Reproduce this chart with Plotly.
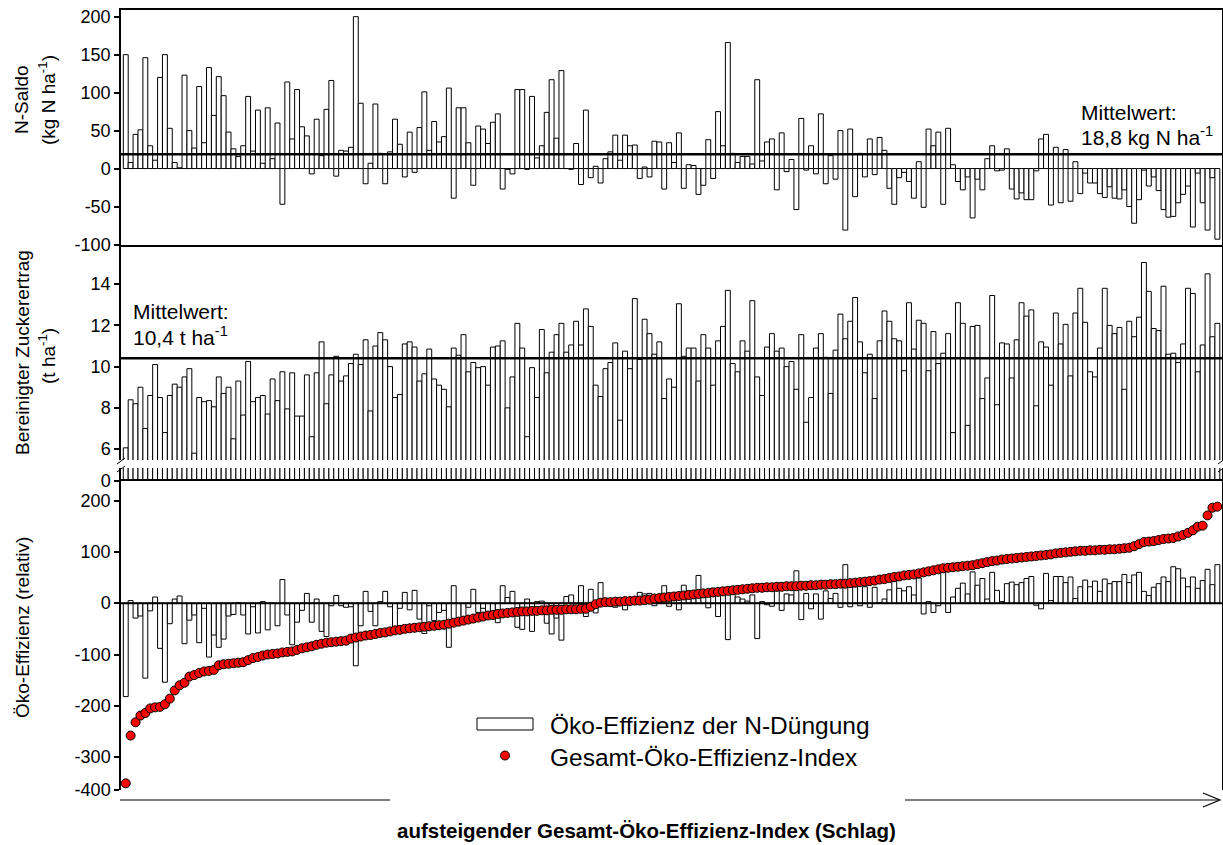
import plotly.graph_objects as go

W, H = 1223, 845

# ---------------- data ----------------
n_saldo = [
    150, 8, 45, 51, 146, 30, 11, 120, 150, 53,
    8, 1, 123, 50, 27, 108, 34, 133, 70, 121,
    96, 48, 26, 16, 30, 95, 23, 77, 7, 80,
    13, 60, -47, 114, 39, 104, 55, 43, -7, 65,
    17, 78, 116, -10, 24, 23, 28, 200, 86, -20,
    7, 85, 20, -20, 22, 65,
    32, -11, 48, -5, 54, 101, 24, 62, 35, 42,
    106, -39, 80, 80, 34, -22, 56, 52, 33, 61,
    72, -27, -1, -7, 104, 104, -1, 95, 14, 30,
    74, 117, 40, 129, 0, -1, 33, -21, 77, -12,
    3, -19, 13, 22, 44, 11, 44, 30, 31, -13,
    2, -11, 36, 35, -27, 34,
    8, 47, -26, 5, 4, -34, -22, 38, -13, 75,
    30, 166, 20, 8, 16, 16, 6, 117, 10, 35,
    39, -28, 47, -4, 12, -54, 66, -2, 30, -7,
    72, -20, 17, -14, 50, -81, 52, -37, 20, -11,
    39, -8, 41, 24, -26, -47, -12, -5, -17, -39,
    9, -51, 52, 30, 48, -47,
    53, 5, -17, -28, -11, -65, -14, -28, 13, 30,
    -3, -2, 26, -27, -40, -32, -41, -41, -3, 39,
    45, -48, 28, -45, 25, -43, 9, -33, -6, -19,
    -19, -33, -38, -24, -39, -40, -28, -50, -72, -41,
    -2, -23, -11, -29, -54, -64, -63, -45, -34, -23,
    -77, -6, -45, -81, -12, -93,
]

zuckerertrag = [
    6.06, 8.39, 8.2, 9.0, 7.0, 8.6, 10.1, 8.5, 6.8, 8.6,
    9.15, 9.0, 9.5, 9.9, 5.8, 8.5, 8.3, 8.35, 8.05, 9.5,
    8.7, 9.0, 6.5, 9.3, 7.65, 10.25, 8.3, 8.5, 8.6, 7.7,
    9.4, 8.35, 9.75, 7.95, 9.7, 7.6, 7.6, 9.6, 6.6, 9.7,
    11.2, 8.2, 9.6, 10.5, 9.3, 9.55, 10.15, 10.6, 10.1, 11.3,
    7.85, 11.0, 11.65, 11.3, 10.0, 8.5,
    8.65, 11.1, 11.2, 10.95, 9.3, 9.65, 10.85, 9.4, 9.1, 8.9,
    8.05, 10.9, 10.55, 11.55, 9.75, 10.2, 9.95, 10.0, 9.1, 10.95,
    11.0, 11.25, 8.0, 9.5, 12.1, 10.9, 6.6, 9.95, 8.5, 11.8,
    9.7, 10.7, 11.55, 12.1, 10.7, 11.05, 12.2, 11.05, 12.8, 11.95,
    9.1, 8.55, 9.9, 10.2, 11.15, 7.4, 10.75, 9.9, 13.3, 10.35,
    12.3, 11.6, 10.6, 11.2, 8.45, 9.4,
    9.0, 13.05, 10.5, 10.9, 10.9, 9.3, 11.55, 10.9, 9.1, 11.25,
    11.95, 13.7, 10.15, 9.75, 11.25, 10.75, 13.2, 9.5, 8.6, 10.95,
    11.6, 10.75, 10.9, 10.0, 10.25, 8.9, 11.55, 7.3, 8.5, 10.9,
    11.6, 10.45, 8.7, 10.8, 12.55, 11.35, 12.2, 13.35, 11.2, 9.7,
    10.6, 8.45, 11.25, 12.7, 12.2, 11.35, 11.25, 9.8, 13.1, 10.85,
    12.25, 12.1, 9.8, 11.7, 10.15, 10.65,
    11.6, 6.8, 13.1, 12.1, 7.15, 11.95, 12.0, 8.45, 9.45, 13.45,
    8.15, 11.15, 11.1, 9.45, 11.3, 13.1, 12.45, 12.75, 8.1, 11.2,
    10.95, 9.1, 12.6, 11.1, 12.05, 9.55, 12.6, 13.8, 12.15, 9.75,
    9.5, 10.9, 13.8, 12.0, 11.6, 11.9, 8.9, 12.2, 11.45, 12.4,
    15.05, 13.65, 11.85, 11.75, 13.9, 10.6, 10.65, 10.2, 11.1, 13.8,
    13.55, 9.75, 11.05, 14.5, 11.45, 12.1,
]

oeko_n_duengung = [
    -182, 5, -29, -25, -146, -15, 12, -88, -154, -40,
    8, 14, -79, -33, -23, -77, -10, -105, -62, -86,
    -70, -25, -22, 1, -23, -60, -7, -58, 3, -52,
    0, -44, 46, -23, -81, -37, -14, 19, -37, 8,
    -55, -65, -5, 15, -5, -8, -7, -122, -44, 23,
    -16, -44, 3, 23, -7, -47,
    -10, 21, -13, 25, -31, -59, -5, -34, -18, -14,
    -86, 34, -31, -26, -8, 27, -18, -10, -21, -29,
    -38, 34, 11, 23, -47, -51, 8, -55, 3, 4,
    -39, -60, -29, -72, 13, 16, -6, 34, -26, 27,
    -19, 40, 2, -6, -8, 5, -13, 6, 10, 21,
    18, 19, -5, 17, 34, -6,
    8, -13, 35, 13, 19, 54, 13, -9, 29, -26,
    23, -71, 27, 12, 8, 4, 16, -69, 3, -3,
    -6, 24, -14, 18, 16, 63, -32, 19, -11, 18,
    -31, 24, 9, 19, -8, 75, -7, 32, -5, 32,
    -8, 31, 1, 8, 26, 42, 29, 24, 32, 16,
    49, -21, 3, -18, -5, 65,
    -18, 12, 29, 39, 18, 61, 35, 48, 8, 60,
    25, 3, 38, 41, 36, 40, 48, 52, -4, -11,
    58, 5, 52, 52, 40, 51, 9, 32, 45, 32,
    43, 23, 47, 38, 42, 42, 56, 40, 55, 60,
    23, 15, 31, 38, 51, 42, 71, 67, 49, 32,
    51, 29, 44, 66, 36, 75,
]

gesamt_index = [
    -351, -258, -232, -219, -214, -205, -203, -202, -197, -186,
    -170, -160, -155, -143, -140, -136, -133, -132, -130, -121,
    -119, -118, -117, -116, -115, -111, -107, -105, -102, -100,
    -99, -98, -96, -95, -94, -91, -88, -86, -84, -81,
    -79, -77, -76, -75, -74, -73, -69, -67, -65, -63,
    -62, -60, -58, -57, -55, -53,
    -52, -50, -49, -48, -47, -46, -45, -44, -43, -42,
    -40, -38, -36, -34, -32, -30, -28, -26, -24, -23,
    -21, -20, -19, -18, -17, -16, -16, -15, -15, -14,
    -14, -13, -13, -13, -12, -12, -12, -11, -11, -7,
    -2, 1, 2, 2, 3, 3, 4, 4, 5, 5,
    6, 7, 9, 10, 11, 12,
    13, 14, 15, 16, 17, 18, 19, 20, 21, 22,
    23, 24, 25, 26, 27, 28, 29, 30, 30, 31,
    31, 32, 32, 33, 33, 33, 34, 34, 35, 35,
    36, 36, 37, 37, 38, 38, 39, 40, 41, 42,
    43, 44, 46, 47, 49, 51, 52, 54, 55, 56,
    58, 60, 62, 64, 66, 68,
    69, 70, 71, 72, 73, 74, 76, 78, 80, 82,
    83, 85, 86, 87, 88, 89, 90, 91, 92, 93,
    94, 95, 97, 98, 99, 100, 101, 102, 102, 103,
    103, 104, 104, 105, 105, 106, 107, 108, 111, 115,
    119, 120, 121, 123, 125, 126, 127, 130, 133, 137,
    142, 149, 151, 171, 186, 188,
]

N_MEAN = 18.8
Z_MEAN = 10.4

N_SALDO_TICKS = [-100, -50, 0, 50, 100, 150, 200]
ZUCKER_TICKS = [6, 8, 10, 12, 14]
OEKO_TICKS = [200, 100, 0, -100, -200, -300]

# ---------------- helpers ----------------
FONT = "Liberation Sans, Arial, sans-serif"


def px(p):
    return p / W


def py(p):
    return 1 - p / H


N = len(n_saldo)
xs = list(range(N))
X_RANGE = [-0.97, N - 1 + 0.95]
Y1_RANGE = [-100, 208.8]
Y2_RANGE = [5.47, 15.9]
Y3_RANGE = [0, 0.6]
Y4_RANGE = [-364, 239]

bar_style = dict(
    marker=dict(color="white", line=dict(color="black", width=1)),
    width=1.0,
    showlegend=False,
)

fig = go.Figure()
fig.add_trace(go.Bar(x=xs, y=n_saldo, xaxis="x", yaxis="y", **bar_style))
fig.add_trace(go.Bar(x=xs, y=zuckerertrag, xaxis="x2", yaxis="y2", **bar_style))
fig.add_trace(go.Bar(x=xs, y=zuckerertrag, xaxis="x3", yaxis="y3", **bar_style))
fig.add_trace(go.Bar(x=xs, y=oeko_n_duengung, xaxis="x4", yaxis="y4", **bar_style))
# zero reference line of the lower panel (drawn between bars and dots)
fig.add_trace(go.Scatter(x=X_RANGE, y=[0, 0], mode="lines", xaxis="x4", yaxis="y4",
                         line=dict(color="black", width=2), showlegend=False,
                         hoverinfo="skip"))
fig.add_trace(go.Scatter(x=xs, y=gesamt_index, mode="markers", xaxis="x4", yaxis="y4",
                         marker=dict(size=9, color="#ff0000",
                                     line=dict(color="black", width=1)),
                         showlegend=False, cliponaxis=False))

xdom = [px(121), px(1222)]
common_x = dict(domain=xdom, range=X_RANGE, showticklabels=False, ticks="",
                showgrid=False, zeroline=False, linecolor="black", linewidth=1.5,
                automargin=False)
common_y = dict(showline=True, mirror=True, linecolor="black", linewidth=1.5,
                ticks="outside", ticklen=5, tickcolor="black", tickwidth=1.5,
                showgrid=False, zeroline=False, automargin=False,
                tickfont=dict(size=18, color="black", family=FONT))


def tt(vals):
    return [str(v) for v in vals]


fig.update_layout(
    width=W, height=H,
    autosize=False,
    margin=dict(l=0, r=0, t=0, b=0, pad=0, autoexpand=False),
    paper_bgcolor="white", plot_bgcolor="white",
    barmode="overlay",
    font=dict(family=FONT, color="black", size=18),
    showlegend=False,
    xaxis=dict(anchor="y", showline=True, mirror=True, **common_x),
    xaxis2=dict(anchor="y2", showline=False, **common_x),
    xaxis3=dict(anchor="y3", showline=False, **common_x),
    xaxis4=dict(anchor="y4", side="top", showline=True, mirror=False, **common_x),
    yaxis=dict(anchor="x", domain=[py(244.5), py(10)], range=Y1_RANGE,
               tickvals=N_SALDO_TICKS, ticktext=tt(N_SALDO_TICKS), **common_y),
    yaxis2=dict(anchor="x2", domain=[py(460), py(245)], range=Y2_RANGE,
                tickvals=ZUCKER_TICKS, ticktext=tt(ZUCKER_TICKS), **common_y),
    yaxis3=dict(anchor="x3", domain=[py(480.5), py(468)], range=Y3_RANGE,
                tickvals=[0], ticktext=["0"], **common_y),
    yaxis4=dict(anchor="x4", domain=[py(790), py(480.5)], range=Y4_RANGE,
                tickvals=OEKO_TICKS + [Y4_RANGE[0]],
                ticktext=tt(OEKO_TICKS) + ["-400"], **common_y),
)

shapes = [
    dict(type="line", xref="x domain", yref="y", x0=0, x1=1, y0=N_MEAN, y1=N_MEAN,
         line=dict(color="black", width=2.5)),
    dict(type="line", xref="x2 domain", yref="y2", x0=0, x1=1, y0=Z_MEAN, y1=Z_MEAN,
         line=dict(color="black", width=2.5)),
]
# axis break marks (left and right)
for xb in (121, 1222):
    for yb in (461, 469):
        shapes.append(dict(type="line", xref="paper", yref="paper",
                           x0=px(xb - 4), x1=px(xb + 4), y0=py(yb + 3), y1=py(yb - 3),
                           line=dict(color="black", width=1)))
# legend symbols
shapes.append(dict(type="rect", xref="paper", yref="paper",
                   x0=px(477), x1=px(533), y0=py(730), y1=py(718),
                   fillcolor="white", line=dict(color="black", width=1)))
shapes.append(dict(type="circle", xref="paper", yref="paper",
                   x0=px(500.5), x1=px(509.5), y0=py(760), y1=py(751),
                   fillcolor="#ff0000", line=dict(color="black", width=1)))
# bottom arrow (interrupted by the axis label)
shapes.append(dict(type="line", xref="paper", yref="paper",
                   x0=px(120), x1=px(390), y0=py(800), y1=py(800),
                   line=dict(color="black", width=1.2)))
shapes.append(dict(type="line", xref="paper", yref="paper",
                   x0=px(905), x1=px(1219), y0=py(800), y1=py(800),
                   line=dict(color="black", width=1.2)))
shapes.append(dict(type="path", xref="paper", yref="paper",
                   path=f"M {px(1203)} {py(793)} L {px(1220)} {py(800)} L {px(1203)} {py(807)}",
                   line=dict(color="black", width=1.2)))
fig.update_layout(shapes=shapes)

ann = []


def add_text(text, x, y, size, angle=0, xanchor="center", bold=False):
    ann.append(dict(text=text, x=px(x), y=py(y), xref="paper", yref="paper",
                    showarrow=False, textangle=angle, xanchor=xanchor, yanchor="middle",
                    font=dict(size=size, color="black", family=FONT)))


add_text("N-Saldo", 22, 100, 19, angle=-90)
add_text("(kg N ha<sup>-1</sup>)", 47, 100, 19, angle=-90)
add_text("Bereinigter Zuckerertrag", 22, 353, 19, angle=-90)
add_text("(t ha<sup>-1</sup>)", 47, 356, 19, angle=-90)
add_text("Öko-Effizienz (relativ)", 22, 628, 19, angle=-90)
add_text("Mittelwert:", 1079, 112, 21, xanchor="left")
add_text("18,8 kg N ha<sup>-1</sup>", 1079, 136, 21, xanchor="left")
add_text("Mittelwert:", 131, 311, 21, xanchor="left")
add_text("10,4 t ha<sup>-1</sup>", 131, 336, 21, xanchor="left")
add_text("Öko-Effizienz der N-Düngung", 548, 725, 24.5, xanchor="left")
add_text("Gesamt-Öko-Effizienz-Index", 548, 757, 24.5, xanchor="left")
add_text("<b>aufsteigender Gesamt-Öko-Effizienz-Index (Schlag)</b>", 646, 830, 20.5)
fig.update_layout(annotations=ann)

fig.write_html("out.html")
